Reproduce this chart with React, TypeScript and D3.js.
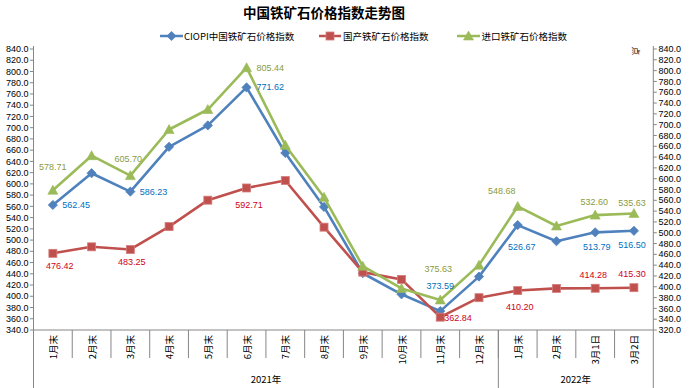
import React from 'react';
import * as d3 from 'd3';

const categories = ['1月末','2月末','3月末','4月末','5月末','6月末','7月末','8月末','9月末','10月末','11月末','12月末','1月末','2月末','3月1日','3月2日'];
const groupLabels = ['2021年','2022年'];
const groupSizes = [12, 4];

const ciopi = [562.45,619,586.23,666,704,771.62,655,559,441,403.5,373.59,435,526.67,498,513.79,516.50];
const domestic = [476.42,488,483.25,524,571,592.71,606,523,443,430,362.84,397.5,410.20,414,414.28,415.30];
const imported = [578.71,642.6,605.70,691,728,805.44,662,565.5,438,397,375.63,440,548.68,512.5,532.60,535.63];

const seriesNames = ['CIOPI中国铁矿石价格指数','国产铁矿石价格指数','进口铁矿石价格指数'];
const labeledIdx = [0,2,5,10,12,14,15];

const leftTicks = d3.range(340, 841, 20);
const rightTicks = d3.range(320, 841, 20);

// label placement (anchor, dx, dy) per labelled point
const ciopiLabelPos: [string, number, number][] = [['start',9.5,0],['start',9.5,0],['start',10,0],['middle',0,-25],['middle',4,22],['middle',1.5,15],['middle',-2,14]];
const domesticLabelPos: [string, number, number][] = [['middle',7,13],['middle',1.5,13],['middle',2.5,17],['start',4,0.5],['middle',2,16],['middle',-2,-13],['middle',-2,-14]];
const importedLabelPos: [string, number, number][] = [['middle',0,-23],['middle',-2,-17],['start',10,0],['middle',-2,-31],['middle',-16,-15],['middle',-1,-13],['middle',-2,-10]];

const W = 689, H = 388;
const plotL = 33.5, plotR = 653.3, plotT = 49, plotB = 330;
const AX = '#868686';
const NUMFONT = '"Liberation Sans", Arial, "Noto Sans CJK SC", sans-serif';
const CJK = '"Noto Sans CJK SC", "Liberation Sans", sans-serif';

const BLUE = '#4F81BD', RED = '#C0504D', GREEN = '#9BBB59';
const BLUE_T = '#0070C0', RED_T = '#D00018', GREEN_T = '#8C9B3A';

function Marker({ kind, x, y }: { kind: string; x: number; y: number }) {
  if (kind === 'diamond') {
    const s = 4.6;
    return <path d={`M${x},${y - s}L${x + s},${y}L${x},${y + s}L${x - s},${y}Z`} fill={BLUE} stroke={BLUE} strokeWidth={0.8} />;
  }
  if (kind === 'square') {
    const s = 4;
    return <rect x={x - s} y={y - s} width={2 * s} height={2 * s} fill={RED} stroke="#D47E7C" strokeWidth={0.8} />;
  }
  const s = 5;
  return <path d={`M${x},${y - s}L${x + s},${y + s * 0.8}L${x - s},${y + s * 0.8}Z`} fill={GREEN} stroke={GREEN} strokeWidth={0.6} />;
}

export default function App() {
  const x = d3.scaleBand<number>().domain(d3.range(categories.length)).range([plotL, plotR]).padding(0);
  const cx = (i: number) => (x(i) as number) + x.bandwidth() / 2;
  const yL = d3.scaleLinear().domain([340, 840]).range([plotB, plotT]);
  const yR = d3.scaleLinear().domain([320, 840]).range([plotB, plotT]);

  const series = [
    { data: ciopi, y: yL, color: BLUE, tcolor: BLUE_T, marker: 'diamond', pos: ciopiLabelPos },
    { data: domestic, y: yL, color: RED, tcolor: RED_T, marker: 'square', pos: domesticLabelPos },
    { data: imported, y: yR, color: GREEN, tcolor: GREEN_T, marker: 'triangle', pos: importedLabelPos },
  ];

  const line = (data: number[], y: d3.ScaleLinear<number, number>) =>
    d3.line<number>().x((_, i) => cx(i)).y(d => y(d))(data) || '';

  // group boundaries
  const groupBounds: number[] = [plotL];
  let acc = 0;
  groupSizes.forEach(s => { acc += s; groupBounds.push((x(acc - 1) as number) + x.bandwidth()); });

  const legendItems = [
    { x0: 160, x1: 183, tx: 184, marker: 'diamond', color: BLUE },
    { x0: 319, x1: 341, tx: 343, marker: 'square', color: RED },
    { x0: 457, x1: 480, tx: 481.5, marker: 'triangle', color: GREEN },
  ];

  return (
    <div style={{ position: 'fixed', left: 0, top: 0, width: W, height: H, background: '#fff' }}>
      <svg width={W} height={H} viewBox={`0 0 ${W} ${H}`} style={{ display: 'block' }}>
        <rect x={0} y={0} width={W} height={H} fill="#fff" />
        <text x={324} y={18} textAnchor="middle" fontFamily={CJK} fontWeight="bold" fontSize={13.5} fill="#000">中国铁矿石价格指数走势图</text>

        {legendItems.map((l, k) => (
          <g key={k}>
            <line x1={l.x0} x2={l.x1} y1={36} y2={36} stroke={l.color} strokeWidth={2.5} />
            <Marker kind={l.marker} x={(l.x0 + l.x1) / 2} y={36} />
            <text x={l.tx} y={39.5} fontFamily={CJK} fontSize={9.5} fill="#000">{seriesNames[k]}</text>
          </g>
        ))}

        {/* left axis */}
        <line x1={plotL} x2={plotL} y1={plotT - 3} y2={plotB} stroke={AX} strokeWidth={1} />
        {leftTicks.map(t => (
          <g key={'l' + t}>
            <line x1={plotL - 3.5} x2={plotL} y1={yL(t)} y2={yL(t)} stroke={AX} />
            <text x={28.5} y={yL(t)} dy="0.35em" textAnchor="end" fontFamily={NUMFONT} fontSize={9} fill="#000">{t.toFixed(1)}</text>
          </g>
        ))}

        {/* right axis */}
        <line x1={plotR} x2={plotR} y1={plotT - 3} y2={plotB} stroke={AX} strokeWidth={1} />
        {rightTicks.map(t => (
          <g key={'r' + t}>
            <line x1={plotR} x2={plotR + 3.5} y1={yR(t)} y2={yR(t)} stroke={AX} />
            <text x={658.5} y={yR(t)} dy="0.35em" textAnchor="start" fontFamily={NUMFONT} fontSize={9} fill="#000">{t.toFixed(1)}</text>
          </g>
        ))}
        <text transform={`translate(637,51) rotate(90)`} textAnchor="middle" dominantBaseline="central" fontFamily={CJK} fontSize={8.5} fill="#000">点</text>

        {/* category axis */}
        <line x1={plotL} x2={plotR} y1={plotB} y2={plotB} stroke={AX} strokeWidth={1} />
        {categories.map((c, i) => (
          <g key={'c' + i}>
            {i > 0 && <line x1={x(i) as number} x2={x(i) as number} y1={plotB} y2={358} stroke={AX} />}
            <text transform={`translate(${cx(i)},335) rotate(-90)`} textAnchor="end" dominantBaseline="central" fontFamily={CJK} fontSize={9.5} fill="#000">{c}</text>
          </g>
        ))}
        {groupBounds.map((b, k) => (
          <line key={'g' + k} x1={b} x2={b} y1={plotB} y2={H} stroke={AX} />
        ))}
        {groupLabels.map((g, k) => (
          <text key={'gl' + k} x={(groupBounds[k] + groupBounds[k + 1]) / 2} y={382.5} textAnchor="middle" fontFamily={CJK} fontSize={9.5} fill="#000">{g}</text>
        ))}

        {/* series */}
        {series.map((s, k) => (
          <g key={'s' + k}>
            <path d={line(s.data, s.y)} fill="none" stroke={s.color} strokeWidth={2.6} strokeLinejoin="round" />
            {s.data.map((v, i) => <Marker key={i} kind={s.marker} x={cx(i)} y={s.y(v)} />)}
          </g>
        ))}
        {series.map((s, k) => (
          <g key={'lab' + k}>
            {labeledIdx.map((i, j) => {
              const [anchor, dx, dy] = s.pos[j];
              return (
                <text key={i} x={cx(i) + dx} y={s.y(s.data[i]) + dy} textAnchor={anchor as any} dominantBaseline="central" fontFamily={NUMFONT} fontSize={9} fill={s.tcolor}>
                  {s.data[i].toFixed(2)}
                </text>
              );
            })}
          </g>
        ))}
      </svg>
    </div>
  );
}
